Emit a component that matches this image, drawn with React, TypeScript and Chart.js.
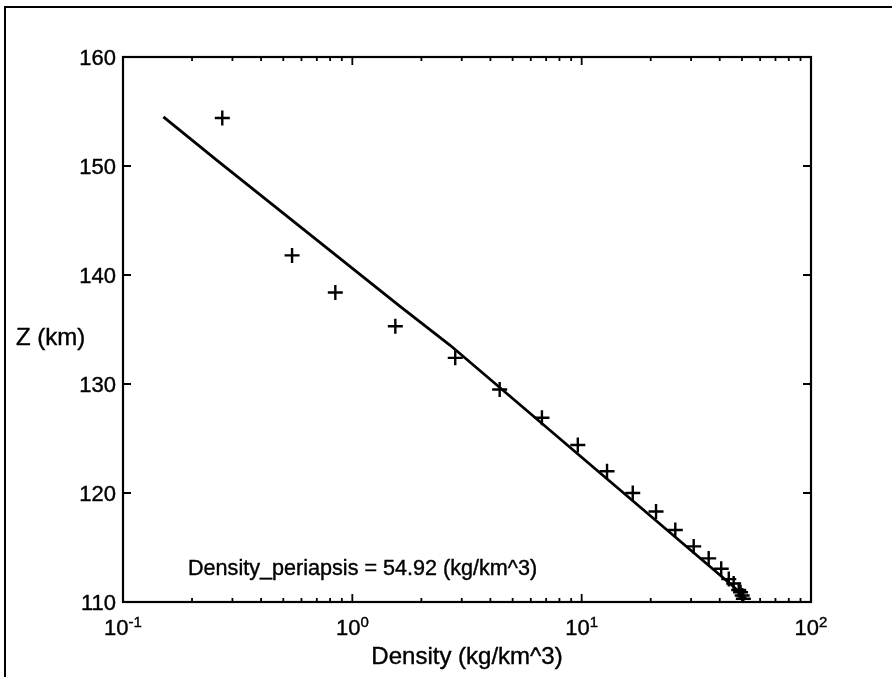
import React, { useEffect, useRef } from "react";
import { Chart, registerables } from "chart.js";

Chart.register(...registerables);

// ---- data ----
const markerDensity = [0.271, 0.546, 0.843, 1.54, 2.81, 4.39, 6.71, 9.62, 12.9, 16.7, 21.1, 25.6, 30.8, 35.8, 40.6, 43.8, 46.0, 48.4, 49.3, 50.1, 50.7];
const markerAltitude = [154.4, 141.8, 138.4, 135.3, 132.4, 129.5, 126.9, 124.4, 122.0, 120.0, 118.3, 116.6, 115.1, 114.0, 113.05, 112.1, 111.7, 111.1, 110.9, 110.6, 110.3];

const fitDensity = [0.150, 0.261, 1.62, 2.67, 46.0, 52.0];
const fitAltitude = [154.5, 150.4, 137.1, 133.55, 111.4, 110.3];

const yTickValues = [110, 120, 130, 140, 150, 160];
const yTickLabels = ["110", "120", "130", "140", "150", "160"];
const xDecadeValues = [0.1, 1, 10, 100];
const xDecadeBase = ["10", "10", "10", "10"];
const xDecadeExponents = ["-1", "0", "1", "2"];
const xMinorMultipliers = [2, 3, 4, 5, 6, 7, 8, 9];

const xAxisTitle = "Density (kg/km^3)";
const yAxisTitle = "Z (km)";
const annotationText = "Density_periapsis = 54.92 (kg/km^3)";

const FONT = '"Liberation Sans", Arial, Helvetica, sans-serif';

function heavyText(ctx: CanvasRenderingContext2D, t: string, x: number, y: number) {
  ctx.fillText(t, x, y);
  ctx.strokeText(t, x, y);
}

const matlabAxes = {
  id: "matlabAxes",
  afterDraw(chart: any) {
    const { ctx, chartArea: a, scales } = chart;
    const xs = scales.x;
    const ys = scales.y;
    ctx.save();
    ctx.strokeStyle = "#000";
    ctx.fillStyle = "#000";

    // axes box
    ctx.lineWidth = 2.2;
    ctx.strokeRect(a.left, a.top, a.right - a.left, a.bottom - a.top);

    // ticks (inward, on all four sides)
    ctx.lineWidth = 1.8;
    ctx.beginPath();
    yTickValues.forEach((v) => {
      const py = ys.getPixelForValue(v);
      ctx.moveTo(a.left, py);
      ctx.lineTo(a.left + 8, py);
      ctx.moveTo(a.right, py);
      ctx.lineTo(a.right - 8, py);
    });
    xDecadeValues.forEach((d, i) => {
      const px = xs.getPixelForValue(d);
      ctx.moveTo(px, a.bottom);
      ctx.lineTo(px, a.bottom - 8);
      ctx.moveTo(px, a.top);
      ctx.lineTo(px, a.top + 8);
      if (i < xDecadeValues.length - 1) {
        xMinorMultipliers.forEach((m) => {
          const pm = xs.getPixelForValue(d * m);
          ctx.moveTo(pm, a.bottom);
          ctx.lineTo(pm, a.bottom - 4);
          ctx.moveTo(pm, a.top);
          ctx.lineTo(pm, a.top + 4);
        });
      }
    });
    ctx.stroke();

    ctx.lineWidth = 0.4;
    // y tick labels
    ctx.font = `22px ${FONT}`;
    ctx.textAlign = "right";
    ctx.textBaseline = "alphabetic";
    yTickValues.forEach((v, i) => {
      const py = ys.getPixelForValue(v);
      heavyText(ctx, yTickLabels[i], a.left - 7, py + 8);
    });

    // x tick labels with superscript exponent
    xDecadeValues.forEach((d, i) => {
      const px = xs.getPixelForValue(d);
      ctx.font = `22px ${FONT}`;
      const wBase = ctx.measureText(xDecadeBase[i]).width;
      ctx.font = `15px ${FONT}`;
      const wExp = ctx.measureText(xDecadeExponents[i]).width;
      const left = px - (wBase + wExp) / 2;
      ctx.textAlign = "left";
      ctx.font = `22px ${FONT}`;
      heavyText(ctx, xDecadeBase[i], left, a.bottom + 33);
      ctx.font = `15px ${FONT}`;
      heavyText(ctx, xDecadeExponents[i], left + wBase, a.bottom + 25);
    });

    // axis titles
    ctx.font = `24px ${FONT}`;
    ctx.textAlign = "center";
    heavyText(ctx, xAxisTitle, (a.left + a.right) / 2, 664);
    ctx.textAlign = "left";
    heavyText(ctx, yAxisTitle, 16, 344.5);

    // annotation
    ctx.font = `21.6px ${FONT}`;
    heavyText(ctx, annotationText, 188, 575);

    // outer figure frame
    ctx.lineWidth = 2;
    ctx.beginPath();
    ctx.moveTo(5, 677);
    ctx.lineTo(5, 7);
    ctx.lineTo(892, 7);
    ctx.stroke();

    ctx.restore();
  },
};

export default function App() {
  const canvasRef = useRef<HTMLCanvasElement | null>(null);

  useEffect(() => {
    if (!canvasRef.current) return;
    const chart = new Chart(canvasRef.current, {
      type: "scatter",
      data: {
        datasets: [
          {
            data: markerDensity.map((d, i) => ({ x: d, y: markerAltitude[i] })),
            showLine: false,
            pointStyle: "cross",
            pointRadius: 7.5,
            pointBorderWidth: 2.4,
            borderColor: "#000",
            backgroundColor: "#000",
          },
          {
            data: fitDensity.map((d, i) => ({ x: d, y: fitAltitude[i] })),
            showLine: true,
            borderColor: "#000",
            borderWidth: 2.8,
            pointRadius: 0,
            fill: false,
          },
        ],
      },
      options: {
        animation: false,
        responsive: true,
        maintainAspectRatio: false,
        layout: { padding: { top: 57, right: 81, left: 0, bottom: 0 } },
        plugins: { legend: { display: false }, tooltip: { enabled: false } },
        scales: {
          x: {
            type: "logarithmic",
            min: 0.1,
            max: 100,
            ticks: { display: false },
            grid: { display: false },
            border: { display: false },
            afterFit(s: any) {
              s.height = 75;
            },
          },
          y: {
            type: "linear",
            min: 110,
            max: 160,
            ticks: { display: false },
            grid: { display: false },
            border: { display: false },
            afterFit(s: any) {
              s.width = 123;
            },
          },
        },
      },
      plugins: [matlabAxes],
    });
    return () => chart.destroy();
  }, []);

  return (
    <div style={{ position: "absolute", left: 0, top: 0, width: 892, height: 677, background: "#fff" }}>
      <canvas ref={canvasRef} />
    </div>
  );
}
